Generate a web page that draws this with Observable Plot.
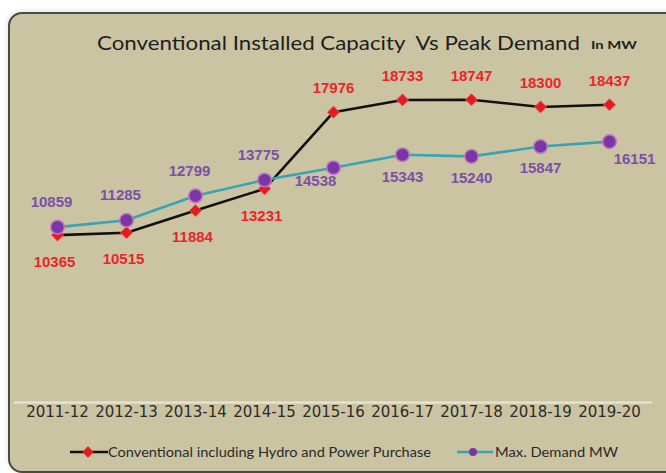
<!DOCTYPE html>
<html>
<head>
<meta charset="utf-8">
<script src="https://cdn.jsdelivr.net/npm/d3@7"></script>
<script src="https://cdn.jsdelivr.net/npm/@observablehq/plot@0.6"></script>
<style>
  html, body { margin: 0; padding: 0; background: #ffffff; }
  #wrap { position: relative; width: 666px; height: 473px; overflow: hidden; background: #fff; }
  #panel { position: absolute; left: 8px; top: 12px; width: 672px; height: 457px;
           background: #cbc4a2; border: 2px solid #4a4a44; border-radius: 14px;
           box-shadow: -2px -2px 4px rgba(0,0,0,0.08); }
  #chart { position: absolute; left: 0; top: 0; }
  .fit { position: absolute; white-space: nowrap; transform-origin: 0 50%; }
  #title { font-family: Lato, "Open Sans", sans-serif; font-size: 20px; color: #1e1e1e; }
  #unit { font-family: Lato, sans-serif; font-size: 11px; font-weight: bold; color: #1e1e1e; }
  .legtext { font-family: Lato, sans-serif; font-size: 13px; color: #2a2a2a; }
  .legsym { position: absolute; }
</style>
</head>
<body>
<div id="wrap">
  <div id="panel"></div>
  <div id="chart"></div>
  <span id="title" class="fit" data-x="97" data-y="42" data-w="483">Conventional Installed Capacity&nbsp; Vs Peak Demand</span>
  <span id="unit" class="fit" data-x="591" data-y="44" data-w="46">In MW</span>
  <svg class="legsym" style="left:68px;top:444px" width="42" height="16">
    <line x1="2" y1="8" x2="40" y2="8" stroke="#111" stroke-width="2.5"/>
    <rect x="16" y="4" width="8" height="8" fill="#e51b24" transform="rotate(45 20 8)"/>
  </svg>
  <span class="fit legtext" data-x="108" data-y="452" data-w="323">Conventional including Hydro and Power Purchase</span>
  <svg class="legsym" style="left:455px;top:444px" width="40" height="16">
    <line x1="2" y1="8" x2="38" y2="8" stroke="#3aa3b3" stroke-width="2.5"/>
    <circle cx="18" cy="8" r="4" fill="#7a35a8"/>
  </svg>
  <span class="fit legtext" data-x="495" data-y="452" data-w="123">Max. Demand MW</span>
</div>
<script>
// ---- data ----
const years = ["2011-12","2012-13","2013-14","2014-15","2015-16","2016-17","2017-18","2018-19","2019-20"];
const conventional = [10365, 10515, 11884, 13231, 17976, 18733, 18747, 18300, 18437];
const maxDemand = [10859, 11285, 12799, 13775, 14538, 15343, 15240, 15847, 16151];

// ---- build table ----
const rows = years.map((y, i) => ({
  year: y,
  conv: conventional[i],
  dem: maxDemand[i],
  i
}));
const last = years.length - 1;
const convAbove = rows.filter(d => d.conv >= d.dem);
const convBelow = rows.filter(d => d.conv < d.dem);
const demAbove = rows.filter(d => d.dem > d.conv);
const demBelow = rows.filter(d => d.dem <= d.conv && d.i !== last && d.i !== 4);
const demSide = rows.filter(d => d.i === last);
const demCross = rows.filter(d => d.i === 4);

const labelFont = "'Liberation Sans', Arial, sans-serif";
const red = "#e8262a";
const purple = "#7a50a8";

const chart = Plot.plot({
  width: 666,
  height: 473,
  marginTop: 79,
  marginBottom: 71,
  marginLeft: 14,
  marginRight: 14,
  style: { background: "transparent", fontFamily: labelFont },
  x: { type: "point", domain: years, padding: 0.58, label: null, tickSize: 0, tickPadding: 4 },
  y: { domain: [0, 20000], axis: null },
  marks: [
    Plot.ruleY([0], { stroke: "#ebe7d7", strokeWidth: 2 }),
    Plot.axisX({ tickSize: 0, tickPadding: 4, fontSize: 15, fill: "#2b2b2b", label: null,
                 fontFamily: "'DejaVu Sans', sans-serif" }),
    Plot.line(rows, { x: "year", y: "conv", stroke: "#111", strokeWidth: 2.6 }),
    Plot.line(rows, { x: "year", y: "dem", stroke: "#3aa3b3", strokeWidth: 2.6 }),
    Plot.dot(rows, { x: "year", y: "conv", symbol: "diamond2", r: 5.5, fill: "#e51b24", stroke: "#f06060", strokeWidth: 0.8 }),
    Plot.dot(rows, { x: "year", y: "dem", r: 6.8, fill: "#7a35a8", stroke: "#c07ab8", strokeWidth: 1.5 }),
    Plot.text(convAbove, { x: "year", y: "conv", text: d => String(d.conv), dy: -24, fill: red,
      fontWeight: "bold", fontSize: 15, fontFamily: labelFont, letterSpacing: 0.6 }),
    Plot.text(convBelow, { x: "year", y: "conv", text: d => String(d.conv), dy: 27, dx: -3, fill: red,
      fontWeight: "bold", fontSize: 15, fontFamily: labelFont, letterSpacing: 0.6 }),
    Plot.text(demAbove, { x: "year", y: "dem", text: d => String(d.dem), dy: -25, dx: -6, fill: purple,
      fontWeight: "bold", fontSize: 15, fontFamily: labelFont, letterSpacing: 0.6 }),
    Plot.text(demBelow, { x: "year", y: "dem", text: d => String(d.dem), dy: 22, fill: purple,
      fontWeight: "bold", fontSize: 15, fontFamily: labelFont, letterSpacing: 0.6 }),
    Plot.text(demCross, { x: "year", y: "dem", text: d => String(d.dem), dy: 13, dx: -18, fill: purple,
      fontWeight: "bold", fontSize: 15, fontFamily: labelFont, letterSpacing: 0.6 }),
    Plot.text(demSide, { x: "year", y: "dem", text: d => String(d.dem), dy: 18, dx: 25, fill: purple,
      fontWeight: "bold", fontSize: 15, fontFamily: labelFont, letterSpacing: 0.6 })
  ]
});
document.getElementById("chart").appendChild(chart);

// fit the HTML texts to their measured widths
document.querySelectorAll(".fit").forEach(el => {
  const x = +el.dataset.x, y = +el.dataset.y, w = +el.dataset.w;
  const r = el.getBoundingClientRect();
  el.style.left = x + "px";
  el.style.top = (y - r.height / 2) + "px";
  el.style.transform = `scaleX(${w / r.width})`;
});
</script>
</body>
</html>
